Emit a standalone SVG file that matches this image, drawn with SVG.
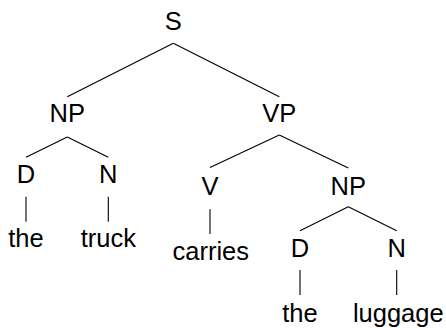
<svg xmlns="http://www.w3.org/2000/svg" width="446" height="328" viewBox="0 0 446 328">
<style>
text { font-family: "Liberation Sans", Arial, sans-serif; font-size: 25.5px; fill: #000; text-anchor: middle; }
#edges line { stroke: #000; stroke-width: 1.1; }
</style>
<rect width="446" height="328" fill="#fff"/>
<g id="edges">
<line x1="173.3" y1="43.3" x2="67.3" y2="96.7"/>
<line x1="173.3" y1="43.3" x2="279.3" y2="96.7"/>
<line x1="67.3" y1="137" x2="26" y2="157.3"/>
<line x1="67.3" y1="137" x2="108.3" y2="157.3"/>
<line x1="279.3" y1="135" x2="210" y2="167.5"/>
<line x1="279.3" y1="135" x2="348.3" y2="168"/>
<line x1="26" y1="196.7" x2="26" y2="221.7"/>
<line x1="108.3" y1="196.7" x2="108.3" y2="221.7"/>
<line x1="210" y1="209.3" x2="210" y2="234"/>
<line x1="348.3" y1="206.7" x2="300" y2="230.7"/>
<line x1="348.3" y1="206.7" x2="396.7" y2="230.7"/>
<line x1="300" y1="270" x2="300" y2="295"/>
<line x1="396.7" y1="270" x2="396.7" y2="295"/>
</g>
<g id="S"><text x="173.3" y="30">S</text></g>
<g id="NP1"><text x="67.3" y="122.3">NP</text></g>
<g id="VP"><text x="279.3" y="122.3">VP</text></g>
<g id="D1"><text x="26" y="183.3">D</text></g>
<g id="N1"><text x="108.3" y="183.3">N</text></g>
<g id="the1"><text x="26" y="247.3">the</text></g>
<g id="truck"><text x="108.3" y="247.3">truck</text></g>
<g id="V"><text x="210" y="195">V</text></g>
<g id="carries"><text x="210.8" y="260">carries</text></g>
<g id="NP2"><text x="348.3" y="195">NP</text></g>
<g id="D2"><text x="300" y="256.7">D</text></g>
<g id="N2"><text x="396.7" y="256.7">N</text></g>
<g id="the2"><text x="300" y="321.7">the</text></g>
<g id="luggage"><text x="398.3" y="321.7">luggage</text></g>
</svg>
